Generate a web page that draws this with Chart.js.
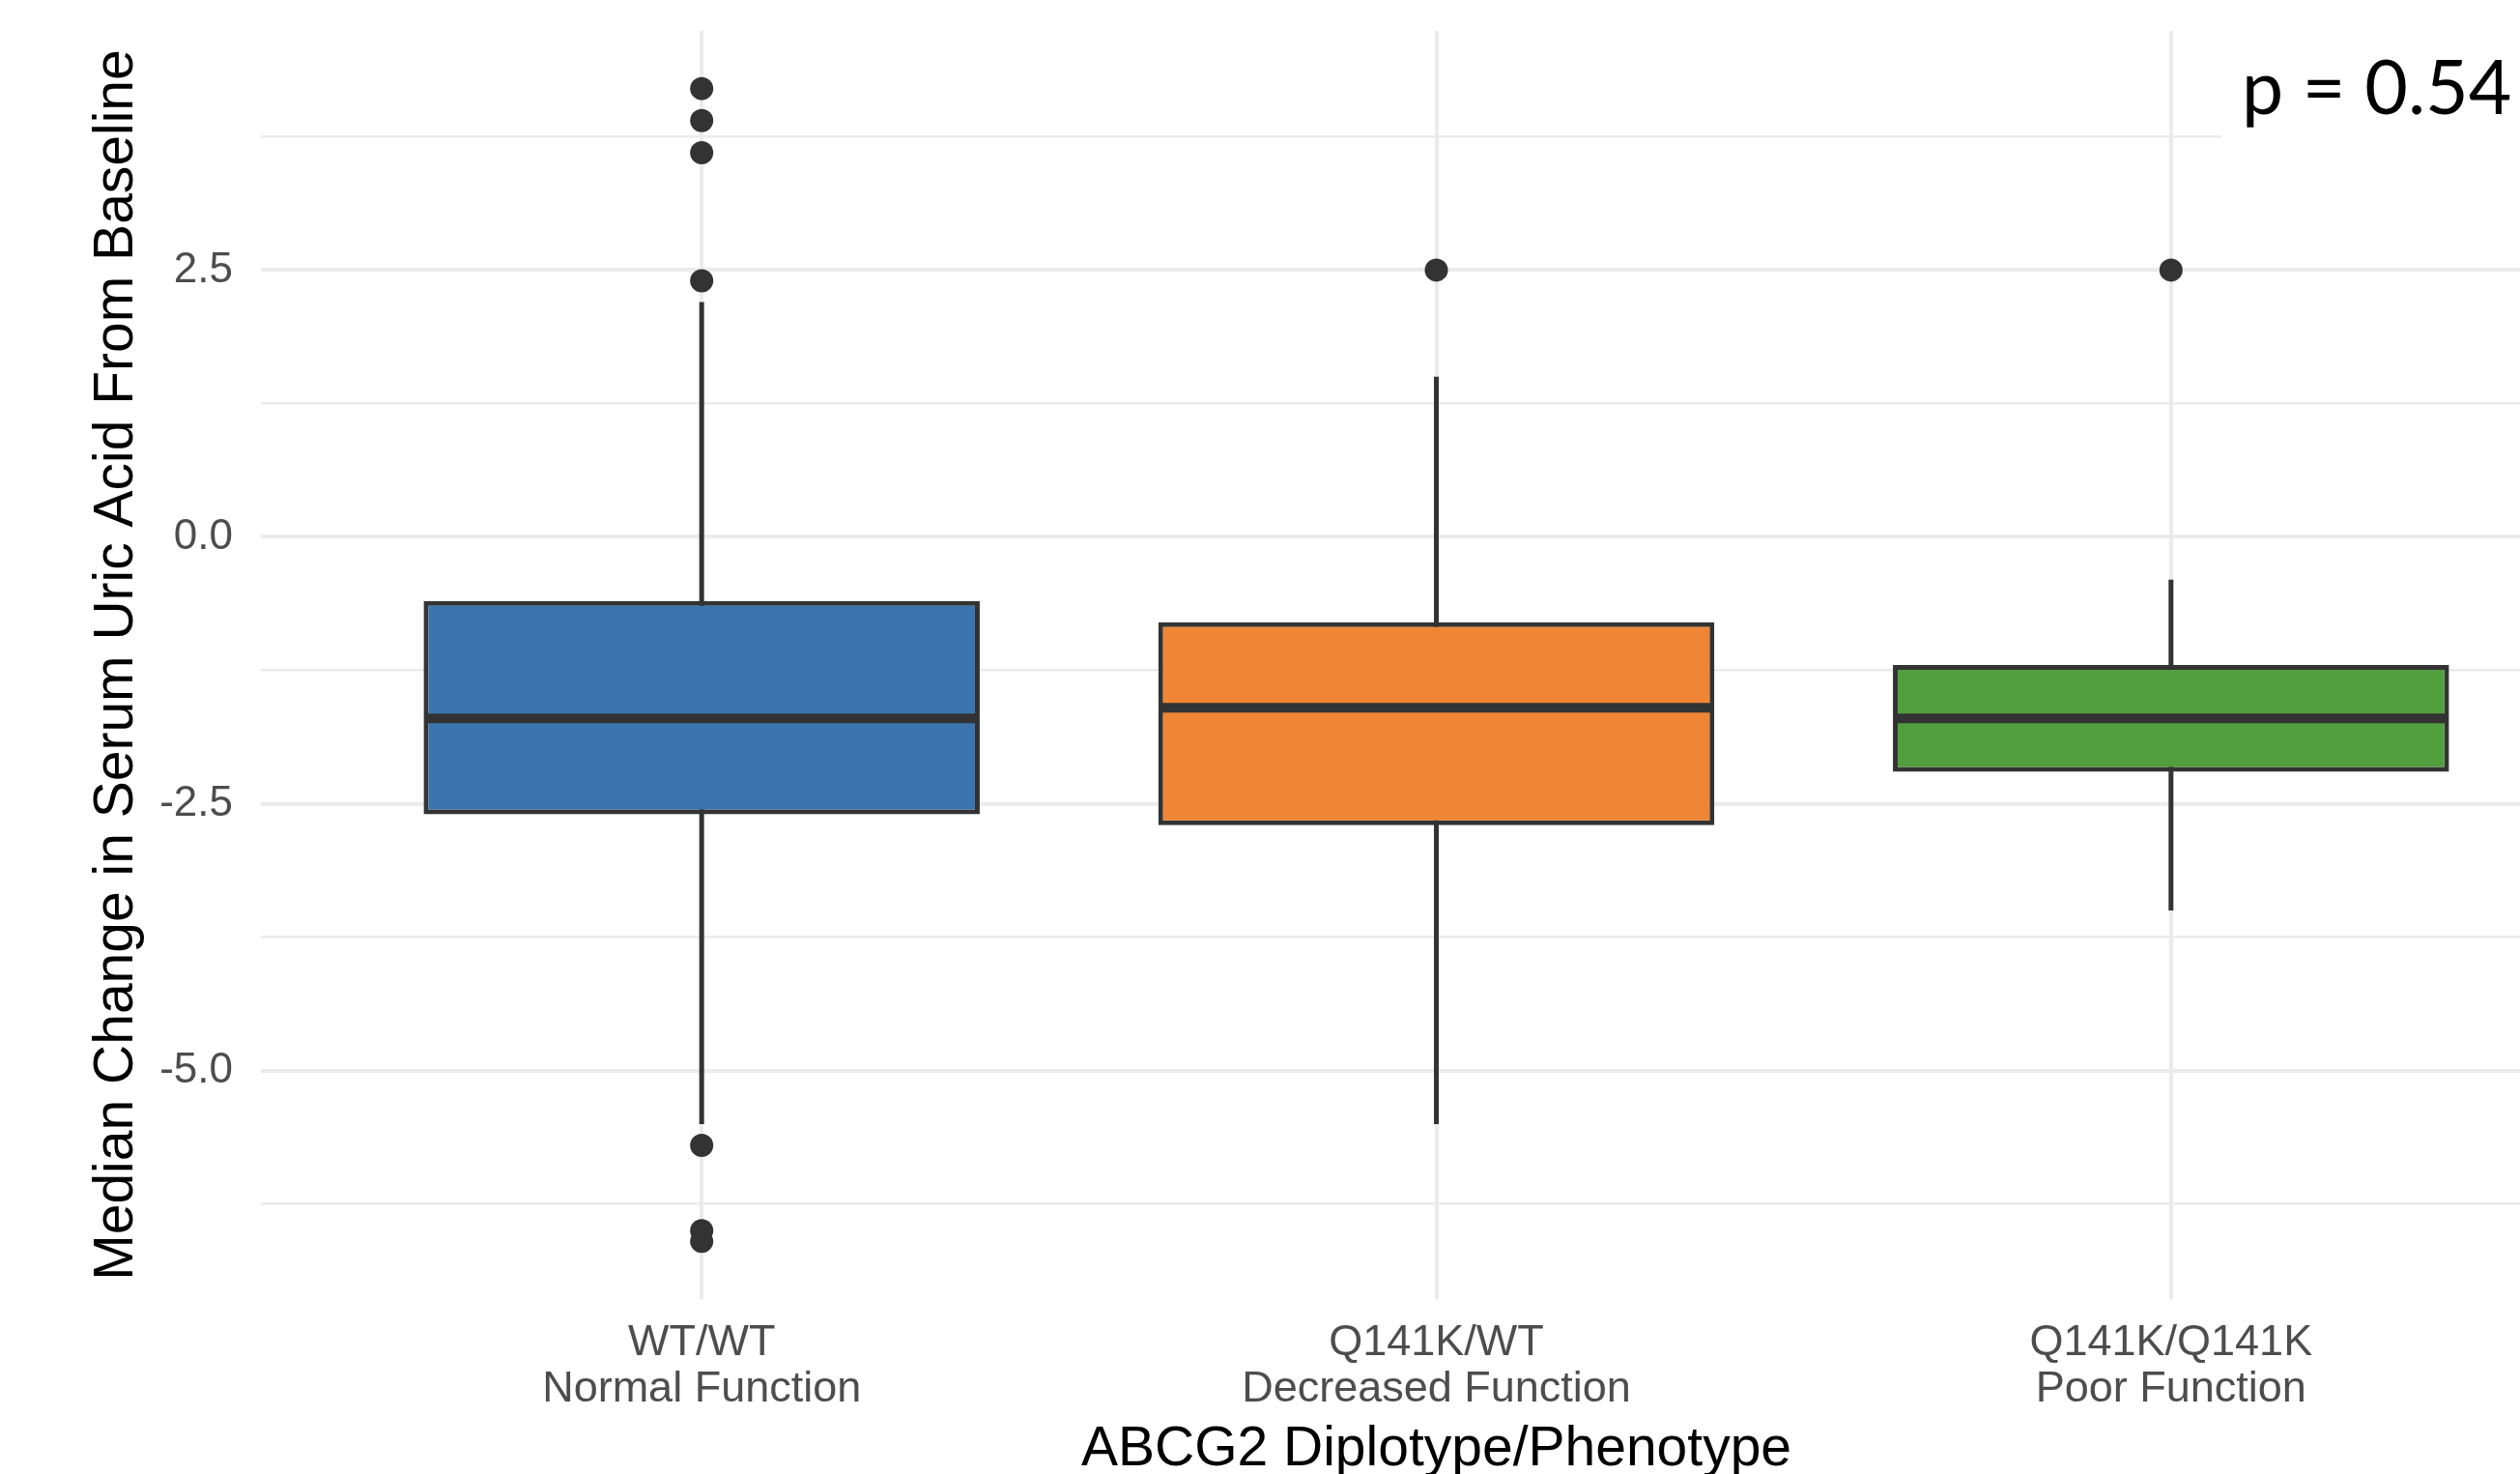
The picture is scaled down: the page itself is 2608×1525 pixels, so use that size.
<!DOCTYPE html>
<html>
<head>
<meta charset="utf-8">
<script src="https://cdn.jsdelivr.net/npm/chart.js@4/dist/chart.umd.min.js"></script>
<style>
  html, body { margin: 0; padding: 0; background: #ffffff; overflow: hidden; }
  #wrap { position: relative; width: 2703px; height: 1525px; }
</style>
</head>
<body>
<div id="wrap"><canvas id="c"></canvas></div>
<script>
// ---- data ----
const genotypes   = ['WT/WT', 'Q141K/WT', 'Q141K/Q141K'];
const phenotypes  = ['Normal Function', 'Decreased Function', 'Poor Function'];
const q1          = [-2.6, -2.7, -2.2];
const medians     = [-1.7, -1.6, -1.7];
const q3          = [-0.6, -0.8, -1.2];
const whiskerLow  = [-5.5, -5.5, -3.5];
const whiskerHigh = [2.2, 1.5, -0.4];
const outlierGroup = [0, 0, 0, 0, 0, 0, 0, 1, 2];
const outlierValue = [4.2, 3.9, 3.6, 2.4, -5.7, -6.5, -6.6, 2.5, 2.5];
const yTickValues  = [-6.25, -5, -3.75, -2.5, -1.25, 0, 1.25, 2.5, 3.75];
const yMajorTicks  = [-5, -2.5, 0, 2.5];
const xTickValues  = [0, 1, 2];
const yRange = [-7.14, 4.74];
const xRange = [-0.6, 2.6];
const pValueText = 'p = 0.54';
const boxColors = ['#3A75AE', '#EF8636', '#519E3E'];

// ---- build datasets from arrays ----
const whiskerData = [];
genotypes.forEach((g, i) => {
  whiskerData.push({x: i, y: whiskerHigh[i]});
  whiskerData.push({x: i, y: whiskerLow[i]});
  whiskerData.push({x: i + 0.5, y: null});
});
const boxData = genotypes.map((g, i) => ({x: i, y: [q1[i], q3[i]]}));
const medianData = genotypes.map((g, i) => ({x: i, y: medians[i]}));
const outlierData = outlierValue.map((v, k) => ({x: outlierGroup[k], y: v}));

const DARK = '#333333';
const GRID = '#EBEBEB';

const pLabelPlugin = {
  id: 'pLabel',
  afterDraw(chart) {
    const ctx = chart.ctx;
    ctx.save();
    ctx.fillStyle = '#ffffff';
    ctx.fillRect(2299, 0, chart.width - 2299, 200);
    ctx.fillStyle = '#000000';
    ctx.font = '77px Lato, "Open Sans", sans-serif';
    ctx.textBaseline = 'alphabetic';
    ctx.textAlign = 'left';
    ctx.fillText(pValueText, 2320, 118);
    ctx.restore();
  }
};

new Chart(document.getElementById('c'), {
  type: 'bar',
  data: {
    datasets: [
      {
        type: 'line',
        data: whiskerData,
        borderColor: DARK,
        borderWidth: 5,
        pointRadius: 0,
        spanGaps: false,
        tension: 0,
        order: 3
      },
      {
        type: 'bar',
        data: boxData,
        backgroundColor: boxColors,
        borderColor: DARK,
        borderWidth: 5,
        borderSkipped: false,
        categoryPercentage: 0.757,
        barPercentage: 1,
        grouped: false,
        order: 2
      },
      {
        type: 'scatter',
        data: medianData,
        pointStyle: 'line',
        pointRadius: 285,
        borderColor: DARK,
        borderWidth: 10,
        order: 1
      },
      {
        type: 'scatter',
        data: outlierData,
        pointStyle: 'circle',
        pointRadius: 12,
        backgroundColor: DARK,
        borderWidth: 0,
        order: 0
      }
    ]
  },
  options: {
    responsive: true,
    maintainAspectRatio: false,
    animation: false,
    events: [],
    layout: { autoPadding: false, padding: { top: 32, right: 0, bottom: 0, left: 0 } },
    plugins: { legend: { display: false }, tooltip: { enabled: false } },
    scales: {
      x: {
        type: 'linear',
        min: xRange[0],
        max: xRange[1],
        offset: false,
        afterBuildTicks: (axis) => { axis.ticks = xTickValues.map(v => ({value: v})); },
        afterFit: (axis) => { axis.height = 181; axis.paddingLeft = 0; axis.paddingRight = 0; },
        ticks: {
          autoSkip: false,
          maxRotation: 0,
          minRotation: 0,
          padding: 22,
          color: '#4D4D4D',
          font: { family: '"Liberation Sans", Arial, sans-serif', size: 45, lineHeight: 48 / 45 },
          callback: (v) => [genotypes[v], phenotypes[v]]
        },
        grid: { color: GRID, lineWidth: 4, drawTicks: false, offset: false },
        border: { display: false },
        title: {
          display: true,
          text: 'ABCG2 Diplotype/Phenotype',
          color: '#000000',
          font: { family: '"Liberation Sans", Arial, sans-serif', size: 57, lineHeight: 0.86 },
          padding: { top: 0, bottom: 0 }
        }
      },
      y: {
        type: 'linear',
        min: yRange[0],
        max: yRange[1],
        afterBuildTicks: (axis) => { axis.ticks = yTickValues.map(v => ({value: v})); },
        afterFit: (axis) => { axis.width = 270; axis.paddingTop = 0; axis.paddingBottom = 0; },
        ticks: {
          autoSkip: false,
          padding: 29,
          color: '#4D4D4D',
          font: { family: '"Liberation Sans", Arial, sans-serif', size: 44 },
          callback: (v) => yMajorTicks.includes(v) ? v.toFixed(1) : ''
        },
        grid: {
          color: GRID,
          drawTicks: false,
          lineWidth: (ctx) => (ctx.tick && yMajorTicks.includes(ctx.tick.value)) ? 4 : 2.5
        },
        border: { display: false },
        title: {
          display: true,
          text: 'Median Change in Serum Uric Acid From Baseline',
          color: '#000000',
          font: { family: '"Liberation Sans", Arial, sans-serif', size: 57, lineHeight: 1.2 },
          padding: { top: 87, bottom: 0 }
        }
      }
    }
  },
  plugins: [pLabelPlugin]
});
</script>
</body>
</html>
